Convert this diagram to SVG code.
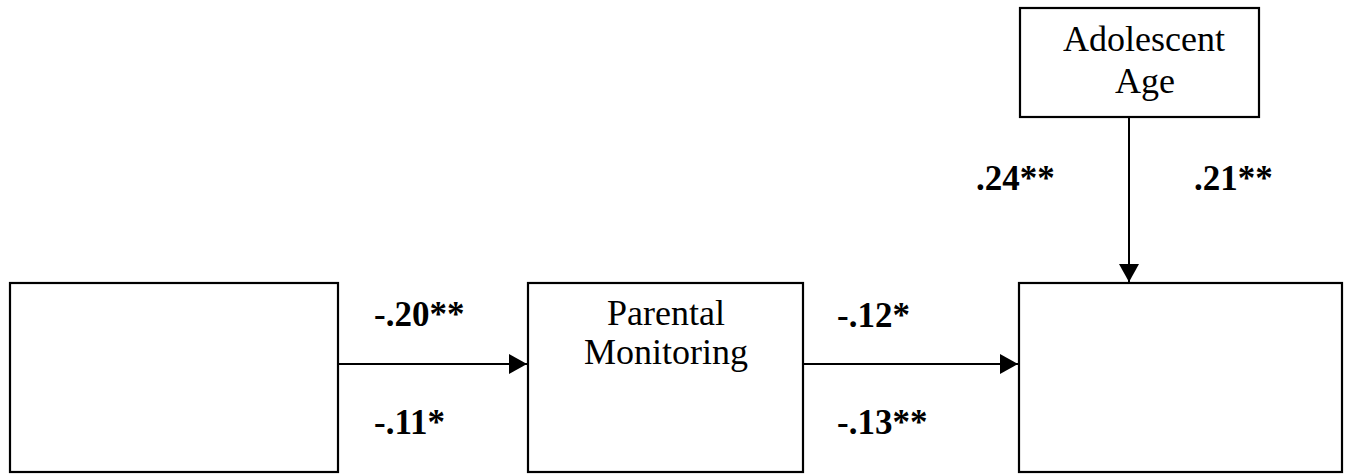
<svg xmlns="http://www.w3.org/2000/svg" width="1359" height="476" viewBox="0 0 1359 476">
<style>
.box{fill:#fff;stroke:#000;stroke-width:2.2}
.lbl{font-family:"Liberation Serif",serif;font-size:36px;fill:#000;text-anchor:middle}
.coef{font-family:"Liberation Serif",serif;font-size:35px;font-weight:bold;fill:#000}
.edge{stroke:#000;stroke-width:2;fill:none}
</style>
<defs>
<marker id="ah" markerWidth="18" markerHeight="20" refX="18" refY="10" orient="auto" markerUnits="userSpaceOnUse">
<polygon points="0,0 18,10 0,20" fill="#000"/>
</marker>
</defs>
<rect width="1359" height="476" fill="#fff"/>
<g id="node-left"><rect class="box" x="10" y="283" width="328" height="189"/></g>
<g id="node-parental"><rect class="box" x="528" y="283" width="275" height="189"/>
<text class="lbl" x="666" y="325">Parental</text>
<text class="lbl" x="666" y="364">Monitoring</text></g>
<g id="node-right"><rect class="box" x="1019" y="283" width="323" height="189"/></g>
<g id="node-age"><rect class="box" x="1020" y="8" width="239" height="109"/>
<text class="lbl" x="1144" y="51">Adolescent</text>
<text class="lbl" x="1145" y="93">Age</text></g>
<g id="connectors">
<line class="edge" x1="338" y1="364" x2="527" y2="364" marker-end="url(#ah)"/>
<line class="edge" x1="803" y1="364" x2="1018" y2="364" marker-end="url(#ah)"/>
<line class="edge" x1="1129" y1="117" x2="1129" y2="282" marker-end="url(#ah)"/>
</g>
<g id="labels">
<text class="coef" x="374" y="326">-.20**</text>
<text class="coef" x="374" y="434">-.11*</text>
<text class="coef" x="837" y="327">-.12*</text>
<text class="coef" x="837" y="434">-.13**</text>
<text class="coef" x="976" y="190">.24**</text>
<text class="coef" x="1194" y="190">.21**</text>
</g>
</svg>
